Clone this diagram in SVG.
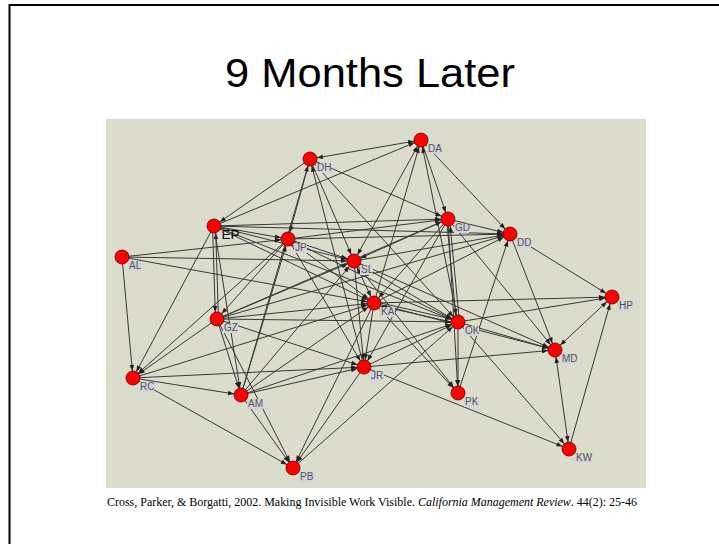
<svg xmlns="http://www.w3.org/2000/svg" width="719" height="544" viewBox="0 0 719 544">
<style>
.e{stroke:#383838;stroke-width:1;fill:none;marker-end:url(#ah)}
.bi{marker-start:url(#ah)}
.n{fill:#ff0000;stroke:#5a0000;stroke-width:0.8}
.lb{fill:#d3d3dc}
.lt{font-family:"Liberation Sans",Arial,sans-serif;font-size:10px;fill:#555}
</style>
<defs>
<marker id="ah" markerUnits="userSpaceOnUse" markerWidth="20" markerHeight="10" refX="13" refY="0" orient="auto-start-reverse" overflow="visible">
<path d="M0,-2.3 L6,0 L0,2.3 z" fill="#222"/>
</marker>
</defs>
<rect x="0" y="0" width="719" height="544" fill="#fff"/>
<path d="M9.5,544 V5 H719" fill="none" stroke="#000" stroke-width="2"/>
<text x="370" y="87" font-family="Liberation Sans,Arial,sans-serif" font-size="41" text-anchor="middle" textLength="290" lengthAdjust="spacingAndGlyphs" fill="#000">9 Months Later</text>
<rect x="106" y="119" width="540" height="369" fill="#dcdccd"/>
<g id="connectors">
<line class="e bi" x1="310" y1="159" x2="421" y2="140"/>
<line class="e" x1="214" y1="226" x2="421" y2="140"/>
<line class="e" x1="421" y1="140" x2="510" y2="234"/>
<line class="e bi" x1="421" y1="140" x2="354" y2="261"/>
<line class="e" x1="374" y1="303" x2="421" y2="140"/>
<line class="e" x1="458" y1="322" x2="421" y2="140"/>
<line class="e" x1="421" y1="140" x2="448" y2="219"/>
<line class="e" x1="310" y1="159" x2="214" y2="226"/>
<line class="e" x1="310" y1="159" x2="288" y2="239"/>
<line class="e" x1="310" y1="159" x2="354" y2="261"/>
<line class="e" x1="310" y1="159" x2="448" y2="219"/>
<line class="e" x1="241" y1="395" x2="310" y2="159"/>
<line class="e" x1="364" y1="367" x2="310" y2="159"/>
<line class="e" x1="310" y1="159" x2="458" y2="322"/>
<line class="e" x1="214" y1="226" x2="448" y2="219"/>
<line class="e" x1="214" y1="226" x2="510" y2="234"/>
<line class="e" x1="214" y1="226" x2="288" y2="239"/>
<line class="e" x1="214" y1="226" x2="354" y2="261"/>
<line class="e" x1="214" y1="226" x2="374" y2="303"/>
<line class="e" x1="212.5" y1="226" x2="215.5" y2="319"/>
<line class="e" x1="218.5" y1="319" x2="215.5" y2="226"/>
<line class="e" x1="214" y1="226" x2="241" y2="395"/>
<line class="e" x1="214" y1="226" x2="133" y2="378"/>
<line class="e" x1="214" y1="226" x2="458" y2="322"/>
<line class="e" x1="122" y1="257" x2="288" y2="239"/>
<line class="e" x1="122" y1="257" x2="354" y2="261"/>
<line class="e" x1="122" y1="257" x2="374" y2="303"/>
<line class="e" x1="122" y1="257" x2="133" y2="378"/>
<line class="e" x1="288" y1="239" x2="510" y2="234"/>
<line class="e" x1="288" y1="239" x2="448" y2="219"/>
<line class="e" x1="288" y1="239" x2="354" y2="261"/>
<line class="e" x1="288" y1="239" x2="374" y2="303"/>
<line class="e" x1="288" y1="239" x2="458" y2="322"/>
<line class="e" x1="288" y1="239" x2="364" y2="367"/>
<line class="e" x1="288" y1="239" x2="217" y2="319"/>
<line class="e" x1="241" y1="395" x2="288" y2="239"/>
<line class="e" x1="288" y1="239" x2="133" y2="378"/>
<line class="e" x1="354" y1="261" x2="510" y2="234"/>
<line class="e" x1="448" y1="219" x2="354" y2="261"/>
<line class="e bi" x1="354" y1="261" x2="374" y2="303"/>
<line class="e" x1="217" y1="319" x2="354" y2="261"/>
<line class="e" x1="241" y1="395" x2="354" y2="261"/>
<line class="e" x1="354" y1="261" x2="364" y2="367"/>
<line class="e" x1="354" y1="261" x2="458" y2="322"/>
<line class="e" x1="354" y1="261" x2="458" y2="393"/>
<line class="e" x1="354" y1="261" x2="555" y2="350"/>
<line class="e" x1="448" y1="219" x2="510" y2="234"/>
<line class="e" x1="448" y1="219" x2="374" y2="303"/>
<line class="e" x1="217" y1="319" x2="448" y2="219"/>
<line class="e" x1="446.5" y1="219" x2="456.5" y2="322"/>
<line class="e" x1="459.5" y1="322" x2="449.5" y2="219"/>
<line class="e" x1="448" y1="219" x2="458" y2="393"/>
<line class="e" x1="448" y1="219" x2="555" y2="350"/>
<line class="e" x1="448" y1="219" x2="364" y2="367"/>
<line class="e" x1="374" y1="303" x2="510" y2="234"/>
<line class="e" x1="217" y1="319" x2="510" y2="234"/>
<line class="e" x1="510" y1="234" x2="612" y2="297"/>
<line class="e" x1="510" y1="234" x2="555" y2="350"/>
<line class="e" x1="458" y1="393" x2="510" y2="234"/>
<line class="e" x1="374" y1="303" x2="612" y2="297"/>
<line class="e" x1="458" y1="322" x2="612" y2="297"/>
<line class="e bi" x1="612" y1="297" x2="555" y2="350"/>
<line class="e" x1="569" y1="449" x2="612" y2="297"/>
<line class="e" x1="374" y1="301.5" x2="458" y2="320.5"/>
<line class="e" x1="458" y1="323.5" x2="374" y2="304.5"/>
<line class="e" x1="374" y1="303" x2="555" y2="350"/>
<line class="e" x1="374" y1="303" x2="458" y2="393"/>
<line class="e" x1="217" y1="319" x2="374" y2="303"/>
<line class="e" x1="374" y1="303" x2="364" y2="367"/>
<line class="e" x1="241" y1="395" x2="374" y2="303"/>
<line class="e" x1="374" y1="303" x2="293" y2="468"/>
<line class="e" x1="133" y1="378" x2="374" y2="303"/>
<line class="e" x1="458" y1="322" x2="555" y2="350"/>
<line class="e bi" x1="555" y1="350" x2="569" y2="449"/>
<line class="e" x1="364" y1="367" x2="555" y2="350"/>
<line class="e" x1="458" y1="322" x2="569" y2="449"/>
<line class="e" x1="364" y1="367" x2="569" y2="449"/>
<line class="e" x1="458" y1="322" x2="458" y2="393"/>
<line class="e" x1="364" y1="367" x2="458" y2="322"/>
<line class="e" x1="241" y1="395" x2="458" y2="322"/>
<line class="e" x1="293" y1="468" x2="458" y2="322"/>
<line class="e" x1="217" y1="319" x2="458" y2="322"/>
<line class="e" x1="217" y1="319" x2="364" y2="367"/>
<line class="e" x1="217" y1="319" x2="241" y2="395"/>
<line class="e" x1="217" y1="319" x2="133" y2="378"/>
<line class="e" x1="133" y1="378" x2="364" y2="367"/>
<line class="e" x1="133" y1="378" x2="241" y2="395"/>
<line class="e" x1="133" y1="378" x2="293" y2="468"/>
<line class="e" x1="241" y1="395" x2="364" y2="367"/>
<line class="e" x1="241" y1="395" x2="293" y2="468"/>
<line class="e" x1="217" y1="319" x2="293" y2="468"/>
<line class="e" x1="364" y1="367" x2="293" y2="468"/>
</g>
<g id="node-DA"><circle class="n" cx="421" cy="140" r="7"/><rect class="lb" x="427" y="144" width="15" height="10"/><text class="lt" x="428" y="152">DA</text></g>
<g id="node-DH"><circle class="n" cx="310" cy="159" r="7"/><rect class="lb" x="316" y="163" width="15" height="10"/><text class="lt" x="317" y="171">DH</text></g>
<g id="node-EP"><circle class="n" cx="214" cy="226" r="7"/><text x="221.5" y="239" font-family="Liberation Sans,Arial,sans-serif" font-size="13.5" fill="#000">EP</text></g>
<g id="node-GD"><circle class="n" cx="448" cy="219" r="7"/><rect class="lb" x="454" y="223" width="15" height="10"/><text class="lt" x="455" y="231">GD</text></g>
<g id="node-DD"><circle class="n" cx="510" cy="234" r="7"/><rect class="lb" x="516" y="238" width="15" height="10"/><text class="lt" x="517" y="246">DD</text></g>
<g id="node-JP"><circle class="n" cx="288" cy="239" r="7"/><rect class="lb" x="294" y="243" width="13" height="10"/><text class="lt" x="295" y="251">JP</text></g>
<g id="node-AL"><circle class="n" cx="122" cy="257" r="7"/><rect class="lb" x="128" y="261" width="13" height="10"/><text class="lt" x="129" y="269">AL</text></g>
<g id="node-SL"><circle class="n" cx="354" cy="261" r="7"/><rect class="lb" x="360" y="265" width="13" height="10"/><text class="lt" x="361" y="273">SL</text></g>
<g id="node-HP"><circle class="n" cx="612" cy="297" r="7"/><rect class="lb" x="618" y="301" width="15" height="10"/><text class="lt" x="619" y="309">HP</text></g>
<g id="node-KA"><circle class="n" cx="374" cy="303" r="7"/><rect class="lb" x="380" y="307" width="15" height="10"/><text class="lt" x="381" y="315">KA</text></g>
<g id="node-GZ"><circle class="n" cx="217" cy="319" r="7"/><rect class="lb" x="223" y="323" width="15" height="10"/><text class="lt" x="224" y="331">GZ</text></g>
<g id="node-OK"><circle class="n" cx="458" cy="322" r="7"/><rect class="lb" x="464" y="326" width="15" height="10"/><text class="lt" x="465" y="334">OK</text></g>
<g id="node-MD"><circle class="n" cx="555" cy="350" r="7"/><rect class="lb" x="561" y="354" width="16" height="10"/><text class="lt" x="562" y="362">MD</text></g>
<g id="node-JR"><circle class="n" cx="364" cy="367" r="7"/><rect class="lb" x="370" y="371" width="14" height="10"/><text class="lt" x="371" y="379">JR</text></g>
<g id="node-RC"><circle class="n" cx="133" cy="378" r="7"/><rect class="lb" x="139" y="382" width="15" height="10"/><text class="lt" x="140" y="390">RC</text></g>
<g id="node-PK"><circle class="n" cx="458" cy="393" r="7"/><rect class="lb" x="464" y="397" width="15" height="10"/><text class="lt" x="465" y="405">PK</text></g>
<g id="node-AM"><circle class="n" cx="241" cy="395" r="7"/><rect class="lb" x="247" y="399" width="16" height="10"/><text class="lt" x="248" y="407">AM</text></g>
<g id="node-KW"><circle class="n" cx="569" cy="449" r="7"/><rect class="lb" x="575" y="453" width="17" height="10"/><text class="lt" x="576" y="461">KW</text></g>
<g id="node-PB"><circle class="n" cx="293" cy="468" r="7"/><rect class="lb" x="299" y="472" width="15" height="10"/><text class="lt" x="300" y="480">PB</text></g>
<text x="107" y="506" font-family="Liberation Serif,'Times New Roman',serif" font-size="12" fill="#000" textLength="530" lengthAdjust="spacingAndGlyphs">Cross, Parker, &amp; Borgatti, 2002. Making Invisible Work Visible. <tspan font-style="italic">California Management Review</tspan>. 44(2): 25-46</text>
</svg>
